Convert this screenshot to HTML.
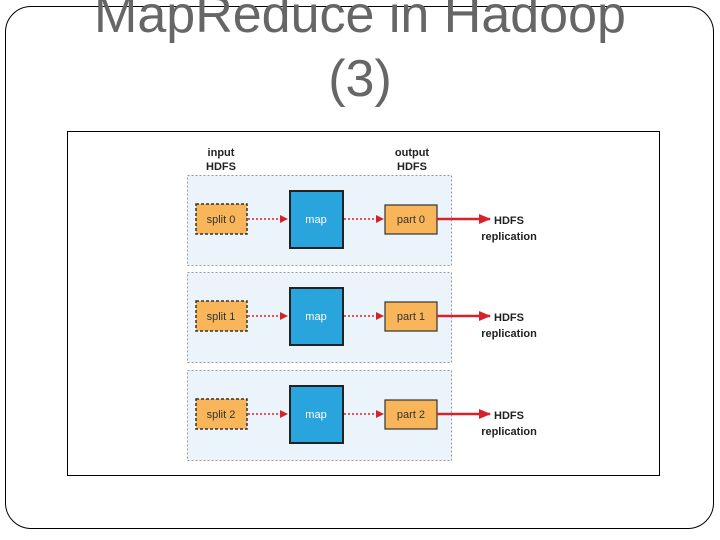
<!DOCTYPE html>
<html><head><style>
body{margin:0;width:720px;height:540px;background:#fff;overflow:hidden;position:relative;font-family:"Liberation Sans",sans-serif}
.frame{position:absolute;left:5px;top:6px;width:709px;height:523px;border:1.5px solid #000;border-radius:26px;box-sizing:border-box}
.t{position:absolute;left:0;width:720px;text-align:center;color:#666;font-size:52px;line-height:64px}
</style></head><body>
<div class="frame"></div>
<div class="t" style="top:-17px;background:transparent">MapReduce in Hadoop</div>
<div class="t" style="top:47px">(3)</div>
<svg style="position:absolute;left:0;top:0" width="720" height="540" font-family="Liberation Sans, sans-serif">
<defs><marker id="a" markerWidth="8" markerHeight="8" refX="7" refY="4" orient="auto" markerUnits="userSpaceOnUse"><path d="M0,0 L8,4 L0,8z" fill="#d6232a"/></marker>
<marker id="b" markerWidth="12" markerHeight="10" refX="11" refY="5" orient="auto" markerUnits="userSpaceOnUse"><path d="M0,0 L12,5 L0,10z" fill="#d6232a"/></marker></defs>
<rect x="67.5" y="131.5" width="592" height="344" fill="#fff" stroke="#000" stroke-width="1"/>
<g font-size="11" font-weight="bold" fill="#222" text-anchor="middle">
<text x="221" y="156">input</text><text x="221" y="170">HDFS</text>
<text x="412" y="156">output</text><text x="412" y="170">HDFS</text></g>
<g id="r">
<rect x="187.5" y="175.5" width="264" height="90" fill="#eaf4fa" stroke="#999" stroke-dasharray="2,2"/>
<rect x="196" y="204" width="51" height="30" fill="#f9b55a" stroke="#333" stroke-width="1.5" stroke-dasharray="3,2"/>
<rect x="290" y="191" width="53" height="57" fill="#29a4dc" stroke="#222" stroke-width="2"/>
<rect x="385" y="205" width="52" height="29" fill="#f9b55a" stroke="#333" stroke-width="1.2"/>
<line x1="248" y1="219" x2="287" y2="219" stroke="#d6232a" stroke-width="1.5" stroke-dasharray="2,2" marker-end="url(#a)"/>
<line x1="344" y1="219" x2="383" y2="219" stroke="#d6232a" stroke-width="1.5" stroke-dasharray="2,2" marker-end="url(#a)"/>
<line x1="437" y1="219" x2="490" y2="219" stroke="#d6232a" stroke-width="2.5" marker-end="url(#b)"/>
<text x="316" y="223" font-size="11" fill="#fff" text-anchor="middle">map</text>
</g>
<use href="#r" y="97"/><use href="#r" y="195"/>
<g font-size="11" fill="#333" text-anchor="middle">
<text x="221" y="223">split 0</text><text x="221" y="320">split 1</text><text x="221" y="418">split 2</text>
<text x="411" y="223">part 0</text><text x="411" y="320">part 1</text><text x="411" y="418">part 2</text></g>
<g font-size="11" font-weight="bold" fill="#222" text-anchor="middle">
<text x="509" y="224">HDFS</text><text x="509" y="240">replication</text>
<text x="509" y="321">HDFS</text><text x="509" y="337">replication</text>
<text x="509" y="419">HDFS</text><text x="509" y="435">replication</text></g>
</svg>
</body></html>
